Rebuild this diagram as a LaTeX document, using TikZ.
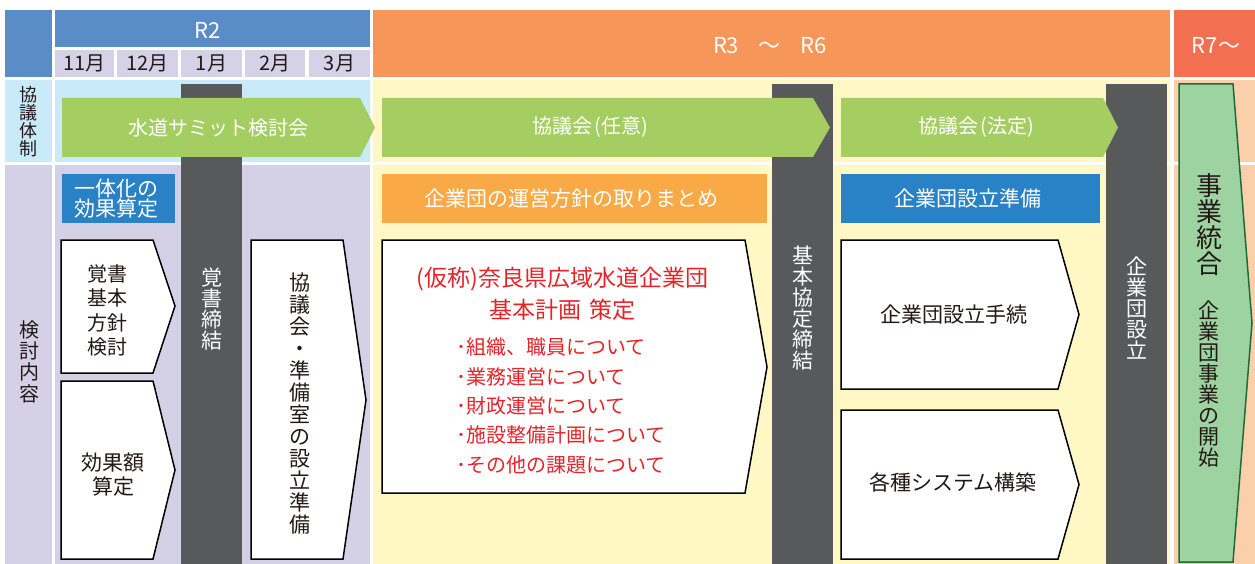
\documentclass[tikz,border=0pt]{standalone}
\usepackage{fontspec}
\setmainfont{Noto Sans CJK JP}
\usepackage{xcolor}
\usepackage{tikz}
\definecolor{hdblue}{HTML}{5A8DC8}
\definecolor{monthcell}{HTML}{D5D2E8}
\definecolor{ltblue}{HTML}{C9EAF8}
\definecolor{lavender}{HTML}{D4D1E7}
\definecolor{hdorange}{HTML}{F69659}
\definecolor{hdred}{HTML}{F26F51}
\definecolor{ltyellow}{HTML}{FFF8C5}
\definecolor{peach}{HTML}{FBCFAA}
\definecolor{darkbar}{HTML}{58595B}
\definecolor{talkgreen}{HTML}{A5CE62}
\definecolor{boxblue}{HTML}{2A82C6}
\definecolor{boxorange}{HTML}{F9AA46}
\definecolor{planred}{HTML}{E5242A}
\definecolor{startgreen}{HTML}{9DD3A0}
\definecolor{startedge}{HTML}{1E6B3A}
\definecolor{ink}{HTML}{231815}
\tikzset{
  hdtext/.style={text=white,inner sep=0,font=\fontsize{22}{22}\selectfont},
  monthtext/.style={text=ink,inner sep=0,font=\fontsize{20}{20}\selectfont},
  wtext/.style={text=white,inner sep=0,align=center,font=\fontsize{20}{20}\selectfont},
  vtext/.style={inner sep=0,align=center,font=\fontsize{21}{21}\selectfont},
  flowbox/.style={fill=white,draw=black,line width=1.5pt,line join=miter},
  flowtext/.style={text=ink,inner sep=0,align=center,font=\fontsize{21}{23.5}\selectfont},
}
\begin{document}
\begin{tikzpicture}[x=1pt,y=-1pt]
\useasboundingbox (0,0) rectangle (1255,564);
\fill[white] (0,0) rectangle (1255,564);
% the header
\fill[hdblue] (5,10) rectangle (52,77);
\fill[hdblue] (55,10) rectangle (370,47);
\node[hdtext] (r2) at (208,30) {R2};
\foreach \xa/\xb/\m [count=\i] in {55/114/11月,117/178/12月,181/242/1月,245/305/2月,309/370/3月}
{
  \fill[monthcell] (\xa,50) rectangle (\xb,77);
  \node[monthtext] (month-\i) at ({(\xa+\xb)/2},63.5) {\m};
}
\fill[hdorange] (373,10) rectangle (1170,77);
\node[hdtext] (r3) at (770,45.5) {R3\hspace{.9em}～\hspace{.9em}R6};
\fill[hdred] (1174,10) rectangle (1255,77);
\node[hdtext] (r7) at (1216,45.5) {R7～};
% the rows
\fill[ltblue] (5,80) rectangle (52,162);
\fill[ltblue] (55,80) rectangle (370,162);
\fill[ltyellow] (373,80) rectangle (1170,162);
\fill[peach] (1174,80) rectangle (1255,162);
\fill[lavender] (5,165) rectangle (52,564);
\fill[lavender] (55,165) rectangle (370,564);
\fill[ltyellow] (373,165) rectangle (1170,564);
\fill[peach] (1174,165) rectangle (1255,564);
\node[vtext,text=ink,font=\fontsize{18}{18}\selectfont] (kyogi) at (28,121.5) {協\\議\\体\\制};
\node[vtext,text=ink,font=\fontsize{20}{21.3}\selectfont] (kento) at (29,361.5) {検\\討\\内\\容};
% the milestone bars
\fill[darkbar] (181,84) rectangle (242,564);
\fill[darkbar] (772,84) rectangle (833,564);
\fill[darkbar] (1106,84) rectangle (1167,564);
\node[vtext,text=white] (oboegaki) at (211.5,309) {覚\\書\\締\\結};
\node[vtext,text=white] (kihon) at (802.5,308.5) {基\\本\\協\\定\\締\\結};
\node[vtext,text=white] (setsuritsu) at (1136.5,308.5) {企\\業\\団\\設\\立};
% the councils
\fill[talkgreen] (62,98) -- (360,98) -- (375,127.5) -- (360,157) -- (62,157) -- cycle;
\fill[talkgreen] (382,98) -- (813,98) -- (830,127.5) -- (813,157) -- (382,157) -- cycle;
\fill[talkgreen] (841,98) -- (1103,98) -- (1118,127.5) -- (1103,157) -- (841,157) -- cycle;
\node[wtext] (summit) at (218,127.5) {水道サミット検討会};
\node[wtext] (nini) at (590,127.5) {協議会\hspace{.1em}(任意)};
\node[wtext] (hotei) at (976,127.5) {協議会\hspace{.1em}(法定)};
% R2 column
\fill[boxblue] (62,174) rectangle (175,223);
\node[wtext,font=\fontsize{21}{20}\selectfont] (ittaika) at (116,198.5) {一体化の\\効果算定};
\draw[flowbox] (61,240) -- (153,240) -- (175,306) -- (153,373) -- (61,373) -- cycle;
\node[flowtext,font=\fontsize{20}{24.3}\selectfont] (hoshin) at (107.5,310.5) {覚書\\基本\\方針\\検討};
\draw[flowbox] (61,381) -- (153,381) -- (175,470) -- (153,559) -- (61,559) -- cycle;
\node[flowtext] (kouka) at (113,474.5) {効果額\\算定};
\draw[flowbox] (251,240) -- (343,240) -- (366,400) -- (343,559) -- (251,559) -- cycle;
\node[vtext,text=ink,font=\fontsize{21}{22}\selectfont] (junbi) at (300,403.5) {協\\議\\会\\・\\準\\備\\室\\の\\設\\立\\準\\備};
% R3 to R6
\fill[boxorange] (382,174) rectangle (767,223);
\node[wtext,font=\fontsize{21}{21}\selectfont] (unei) at (571,198.5) {企業団の運営方針の取りまとめ};
\draw[flowbox] (382,240) -- (745,240) -- (767,367) -- (745,493) -- (382,493) -- cycle;
\node[text=planred,inner sep=0,align=center,font=\fontsize{23}{32}\selectfont] (keikaku) at (562.5,294) {(仮称)奈良県広域水道企業団\\基本計画\hspace{.35em}策定};
\node[text=planred,inner sep=0,align=left,anchor=west,font=\fontsize{20}{29.3}\selectfont] (items) at (456,406) {･組織、職員について\\･業務運営について\\･財政運営について\\･施設整備計画について\\･その他の課題について};
\fill[boxblue] (841,174) rectangle (1100,223);
\node[wtext,font=\fontsize{21}{21}\selectfont] (junbi2) at (968,198.5) {企業団設立準備};
\draw[flowbox] (841,240) -- (1058,240) -- (1079,314.5) -- (1058,389) -- (841,389) -- cycle;
\node[flowtext] (tetsuzuki) at (954,314) {企業団設立手続};
\draw[flowbox] (841,410) -- (1058,410) -- (1079,484.5) -- (1058,559) -- (841,559) -- cycle;
\node[flowtext] (system) at (953,482) {各種システム構築};
% R7 onwards
\draw[fill=startgreen,draw=startedge,line width=1.5pt] (1179,84) -- (1233,84) -- (1252,323) -- (1233,562) -- (1179,562) -- cycle;
\node[vtext,text=ink,font=\fontsize{26}{26}\selectfont] (tougou) at (1209,225) {事\\業\\統\\合};
\node[vtext,text=ink] (kaishi) at (1209,384) {企\\業\\団\\事\\業\\の\\開\\始};
\end{tikzpicture}
\end{document}
